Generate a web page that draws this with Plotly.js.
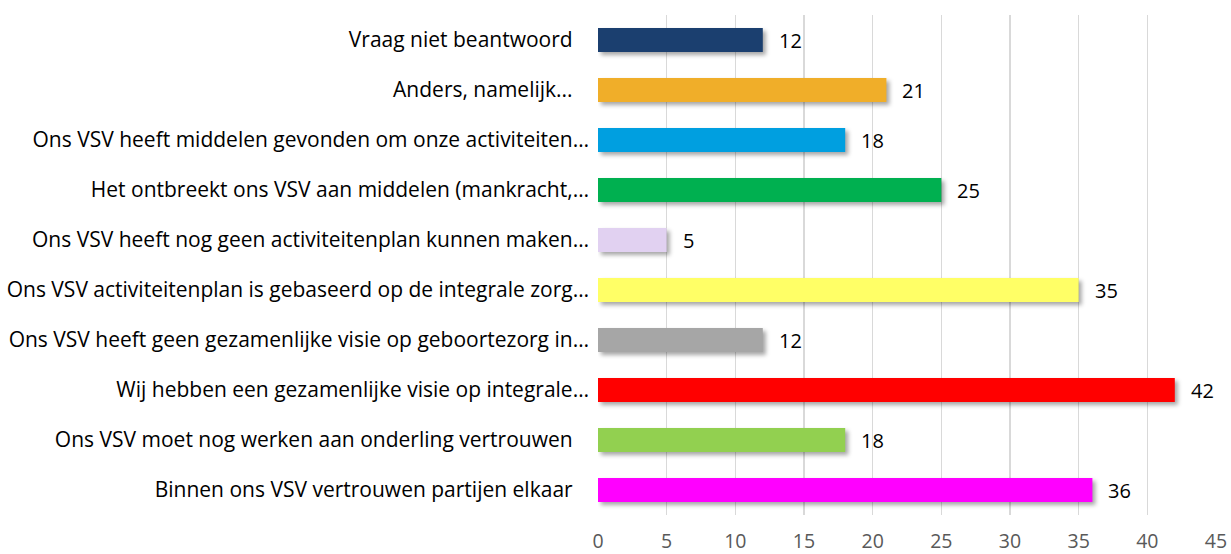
<!DOCTYPE html>
<html><head><meta charset="utf-8">
<script src="https://cdn.plot.ly/plotly-3.0.1.min.js"></script>
<style>
html,body{margin:0;padding:0;background:#fff;}
#chart{width:1231px;height:554px;}
</style></head>
<body><div id="chart"></div>
<script>
const categories = [
  "Vraag niet beantwoord",
  "Anders, namelijk...",
  "Ons VSV heeft middelen gevonden om onze activiteiten…",
  "Het ontbreekt ons VSV aan middelen (mankracht,…",
  "Ons VSV heeft nog geen activiteitenplan kunnen maken…",
  "Ons VSV activiteitenplan is gebaseerd op de integrale zorg…",
  "Ons VSV heeft geen gezamenlijke visie op geboortezorg in…",
  "Wij hebben een gezamenlijke visie op integrale…",
  "Ons VSV moet nog werken aan onderling vertrouwen",
  "Binnen ons VSV vertrouwen partijen elkaar"
];
const values = [12, 21, 18, 25, 5, 35, 12, 42, 18, 36];
const colors = ["#1B3F6F","#F0AE29","#009FE0","#00B050","#E1D1F1","#FFFF66","#A6A6A6","#FF0000","#92D050","#FF00FF"];
const tickVals = [0,5,10,15,20,25,30,35,40,45];

const font = "Open Sans, sans-serif";
// labels that were not truncated carry a trailing space in the original
const tickText = categories.map(c => c.endsWith("…") ? c : c + "\u00a0\u00a0\u00a0");

const trace = {
  type: "bar", orientation: "h",
  x: values, y: categories,
  marker: {color: colors, line: {width: 0}},
  hoverinfo: "none",
  width: 0.48
};
const annotations = values.map((v, i) => ({
  x: v, y: categories[i], xref: "x", yref: "y",
  text: String(v), showarrow: false, xanchor: "left", yanchor: "middle",
  xshift: 14, font: {family: font, size: 20, color: "#000"}
}));
const layout = {
  width: 1231, height: 554,
  margin: {l: 598, r: 15, t: 15, b: 39},
  paper_bgcolor: "#fff", plot_bgcolor: "#fff",
  showlegend: false,
  bargap: 0.52,
  xaxis: {
    range: [0, 45], tickvals: tickVals, ticktext: tickVals.map(String),
    showgrid: true, gridcolor: "#D9D9D9", gridwidth: 1.5,
    zeroline: false, showline: false, ticks: "",
    tickfont: {family: font, size: 19.5, color: "#595959"},
    ticklabelstandoff: 12,
    fixedrange: true
  },
  yaxis: {
    type: "category", autorange: "reversed",
    tickvals: categories, ticktext: tickText,
    showgrid: false, zeroline: false, showline: false, ticks: "",
    tickfont: {family: font, size: 21, color: "#000"},
    ticklabelstandoff: 8,
    fixedrange: true
  },
  annotations: annotations
};
Plotly.newPlot("chart", [trace], layout, {displayModeBar: false, staticPlot: true}).then(gd => {
  gd.querySelectorAll(".barlayer path").forEach(p => {
    p.style.filter = "drop-shadow(3px 3px 2px rgba(0,0,0,0.35))";
  });
});
</script></body></html>
